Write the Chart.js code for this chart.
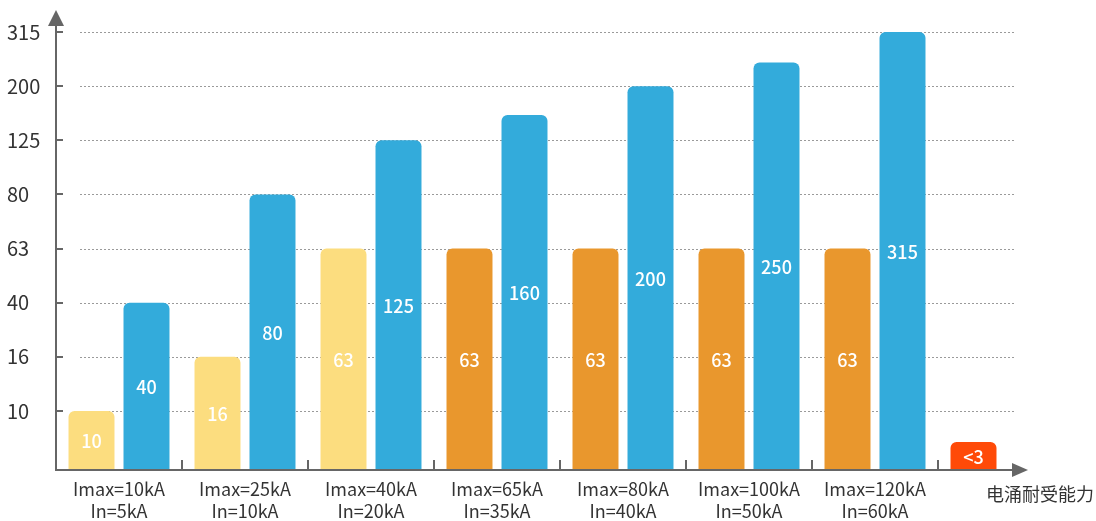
<!DOCTYPE html>
<html lang="zh">
<head>
<meta charset="utf-8">
<title>电涌耐受能力</title>
<script src="https://cdn.jsdelivr.net/npm/chart.js@4.4.1/dist/chart.umd.min.js"></script>
<style>
  html,body{margin:0;padding:0;background:#fff;}
  #wrap{width:1096px;height:521px;position:relative;}
</style>
</head>
<body>
<div id="wrap"><canvas id="chartSurge"></canvas></div>
<script>
/* ----------------- Data ----------------- */
const categories = [
  ['Imax=10kA', 'In=5kA'],
  ['Imax=25kA', 'In=10kA'],
  ['Imax=40kA', 'In=20kA'],
  ['Imax=65kA', 'In=35kA'],
  ['Imax=80kA', 'In=40kA'],
  ['Imax=100kA', 'In=50kA'],
  ['Imax=120kA', 'In=60kA'],
  ''
];
const yTicks = [10, 16, 40, 63, 80, 125, 200, 315];
const ratingLow = [10, 16, 63, 63, 63, 63, 63, 3];
const ratingHigh = [40, 80, 125, 160, 200, 250, 315, null];
const underLimit = [7];            // index of the "<3" bar
const axisTitle = '电涌耐受能力';

/* ----------------- Colours ----------------- */
const YELLOW = '#fcdd7f', ORANGE = '#e9972d', BLUE = '#33abdb', RED = '#ff4a08';
const lowColors = [YELLOW, YELLOW, YELLOW, ORANGE, ORANGE, ORANGE, ORANGE, RED];
const FONT = '"Noto Sans CJK SC", "Noto Sans", sans-serif';
const AXIS = '#666666';

/* ----------------- Helpers DOM ----------------- */
const $ = id => document.getElementById(id);

/* ----------------- Step scale: evenly spaced ticks, linear between them ----------------- */
class StepScale extends Chart.Scale {
  static id = 'step';
  static defaults = {};
  determineDataLimits() {
    const f = this.options.firstStep || 1;
    this._knots = [[0, 0]].concat(yTicks.map((v, i) => [v, f + i]));
    this.min = 0;
    this.max = yTicks[yTicks.length - 1];
  }
  buildTicks() { return yTicks.map(v => ({ value: v })); }
  getLabelForValue(v) { return String(v); }
  toPos(v) {
    const ks = this._knots;
    if (v == null || v <= 0) return 0;
    for (let i = 1; i < ks.length; i++) {
      if (v <= ks[i][0] || i === ks.length - 1) {
        const [v0, p0] = ks[i - 1], [v1, p1] = ks[i];
        return p0 + (v - v0) / (v1 - v0) * (p1 - p0);
      }
    }
    return 0;
  }
  getPixelForValue(v) { return this.getPixelForDecimal(this.toPos(v) / this.toPos(this.max)); }
  getValueForPixel(px) {
    const p = this.getDecimalForPixel(px) * this.toPos(this.max), ks = this._knots;
    for (let i = 1; i < ks.length; i++) {
      if (p <= ks[i][1]) { const [v0, p0] = ks[i - 1], [v1, p1] = ks[i]; return v0 + (p - p0) / (p1 - p0) * (v1 - v0); }
    }
    return this.max;
  }
}
Chart.register(StepScale);

/* ----------------- Dotted grid (behind bars) ----------------- */
const gridPlugin = {
  id: 'dottedGrid',
  beforeDatasetsDraw(chart) {
    const { ctx, chartArea: a, scales: { y } } = chart;
    ctx.save();
    ctx.strokeStyle = '#9a9a9a'; ctx.lineWidth = 1; ctx.setLineDash([2, 2]);
    yTicks.forEach(v => {
      const py = Math.round(y.getPixelForValue(v)) + 0.5;
      ctx.beginPath(); ctx.moveTo(a.left + 24, py); ctx.lineTo(a.right - 48, py); ctx.stroke();
    });
    ctx.restore();
  }
};

/* ----------------- Axes with arrows, tick marks, axis title ----------------- */
const axisPlugin = {
  id: 'arrowAxes',
  afterDatasetsDraw(chart) {
    const { ctx, chartArea: a, scales: { x, y } } = chart;
    const ax = a.left, ay = a.bottom;
    ctx.save();
    ctx.strokeStyle = AXIS; ctx.fillStyle = AXIS; ctx.lineWidth = 2;
    // y axis
    ctx.beginPath(); ctx.moveTo(ax, ay + 1); ctx.lineTo(ax, 20); ctx.stroke();
    ctx.beginPath(); ctx.moveTo(ax, 10); ctx.lineTo(ax - 8, 26); ctx.lineTo(ax + 8, 26); ctx.closePath(); ctx.fill();
    yTicks.forEach(v => {
      const py = Math.round(y.getPixelForValue(v));
      ctx.beginPath(); ctx.moveTo(ax, py); ctx.lineTo(ax + 7, py); ctx.stroke();
    });
    // x axis
    const tipX = a.right - 36;
    ctx.beginPath(); ctx.moveTo(ax - 1, ay); ctx.lineTo(tipX - 10, ay); ctx.stroke();
    ctx.beginPath(); ctx.moveTo(tipX, ay); ctx.lineTo(tipX - 16, ay - 7); ctx.lineTo(tipX - 16, ay + 7); ctx.closePath(); ctx.fill();
    for (let i = 1; i < categories.length; i++) {
      const px = Math.round((x.getPixelForValue(i - 1) + x.getPixelForValue(i)) / 2);
      ctx.beginPath(); ctx.moveTo(px, ay - 10); ctx.lineTo(px, ay); ctx.stroke();
    }
    // axis title
    ctx.fillStyle = '#333'; ctx.font = '18px ' + FONT;
    ctx.textAlign = 'center'; ctx.textBaseline = 'middle';
    ctx.fillText(axisTitle, tipX + 12, ay + 24);
    ctx.restore();
  }
};

/* ----------------- Value labels in the middle of each bar ----------------- */
const valuePlugin = {
  id: 'barValues',
  afterDatasetsDraw(chart) {
    const { ctx } = chart;
    ctx.save();
    ctx.fillStyle = '#fff'; ctx.font = '500 18px ' + FONT;
    ctx.textAlign = 'center'; ctx.textBaseline = 'middle';
    chart.data.datasets.forEach((ds, di) => {
      chart.getDatasetMeta(di).data.forEach((bar, i) => {
        const v = ds.data[i];
        if (v == null) return;
        const txt = (di === 0 && underLimit.includes(i) ? '<' : '') + v;
        ctx.fillText(txt, bar.x, (bar.y + bar.base) / 2 + 1);
      });
    });
    ctx.restore();
  }
};

/* ----------------- Chart.js ----------------- */
let chartInstance = null;
function initChart() {
  const ctx = $('chartSurge'); if (!ctx) return;
  chartInstance = new Chart(ctx, {
    type: 'bar',
    data: {
      labels: categories,
      datasets: [
        { data: ratingLow, backgroundColor: lowColors, borderRadius: 6, borderSkipped: 'start', minBarLength: 28 },
        { data: ratingHigh, backgroundColor: BLUE, borderRadius: 6, borderSkipped: 'start' }
      ]
    },
    options: {
      responsive: true, maintainAspectRatio: false, animation: false,
      categoryPercentage: 0.873, barPercentage: 0.836,
      layout: { padding: { left: 7, right: 32, top: 32, bottom: 0 } },
      plugins: { legend: { display: false }, tooltip: { enabled: false } },
      scales: {
        x: {
          grid: { display: false, drawTicks: false }, border: { display: false },
          ticks: { color: '#333', padding: 8, maxRotation: 0, autoSkip: false, font: { family: FONT, size: 18, lineHeight: 1.22 } },
          afterFit: s => { s.height = 51; }
        },
        y: {
          type: 'step', firstStep: 1.09,
          grid: { display: false, drawTicks: false }, border: { display: false },
          ticks: { color: '#333', crossAlign: 'far', autoSkip: false, font: { family: FONT, size: 20 } },
          afterFit: s => { s.width = 49; }
        }
      }
    },
    plugins: [gridPlugin, valuePlugin, axisPlugin]
  });
}

window.addEventListener('load', initChart);
</script>
</body>
</html>
